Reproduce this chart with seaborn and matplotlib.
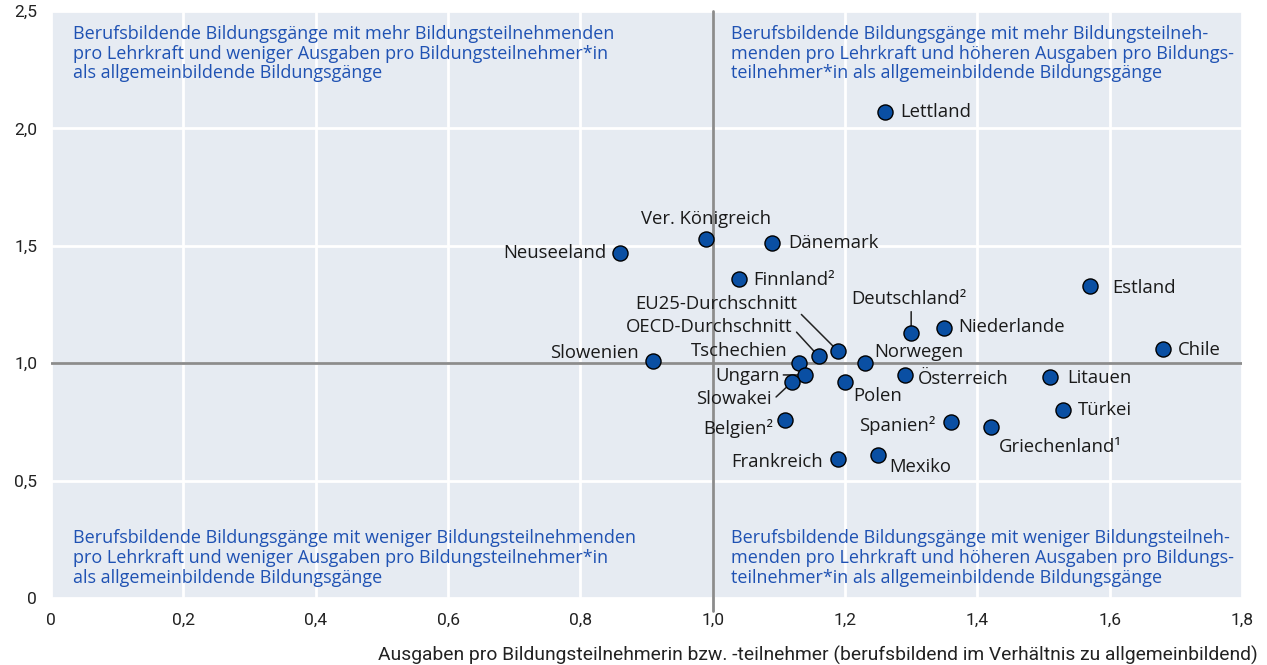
import matplotlib
matplotlib.use("Agg")
import matplotlib.pyplot as plt
from matplotlib import font_manager
from matplotlib.ticker import FuncFormatter
import seaborn as sns
import pandas as pd

# --- data -----------------------------------------------------------------
laender = [
    "Lettland", "Ver. Königreich", "Neuseeland", "Dänemark", "Finnland²",
    "Estland", "Chile", "Niederlande", "Deutschland²", "EU25-Durchschnitt",
    "OECD-Durchschnitt", "Tschechien", "Norwegen", "Slowenien", "Ungarn",
    "Slowakei", "Polen", "Österreich", "Litauen", "Türkei", "Spanien²",
    "Griechenland¹", "Belgien²", "Frankreich", "Mexiko",
]
ausgaben_verhaeltnis = [
    1.26, 0.99, 0.86, 1.09, 1.04,
    1.57, 1.68, 1.35, 1.30, 1.19,
    1.16, 1.13, 1.23, 0.91, 1.14,
    1.12, 1.20, 1.29, 1.51, 1.53, 1.36,
    1.42, 1.11, 1.19, 1.25,
]
teilnehmer_pro_lehrkraft = [
    2.07, 1.53, 1.47, 1.51, 1.36,
    1.33, 1.06, 1.15, 1.13, 1.05,
    1.03, 1.00, 1.00, 1.01, 0.95,
    0.92, 0.92, 0.95, 0.94, 0.80, 0.75,
    0.73, 0.76, 0.59, 0.61,
]
x_ticks = [0, 0.2, 0.4, 0.6, 0.8, 1.0, 1.2, 1.4, 1.6, 1.8]
y_ticks = [0, 0.5, 1.0, 1.5, 2.0, 2.5]

quadranten = {
    "ol": "Berufsbildende Bildungsgänge mit mehr Bildungsteilnehmenden\n"
          "pro Lehrkraft und weniger Ausgaben pro Bildungsteilnehmer*in\n"
          "als allgemeinbildende Bildungsgänge",
    "or": "Berufsbildende Bildungsgänge mit mehr Bildungsteilneh-\n"
          "menden pro Lehrkraft und höheren Ausgaben pro Bildungs-\n"
          "teilnehmer*in als allgemeinbildende Bildungsgänge",
    "ul": "Berufsbildende Bildungsgänge mit weniger Bildungsteilnehmenden\n"
          "pro Lehrkraft und weniger Ausgaben pro Bildungsteilnehmer*in\n"
          "als allgemeinbildende Bildungsgänge",
    "ur": "Berufsbildende Bildungsgänge mit weniger Bildungsteilneh-\n"
          "menden pro Lehrkraft und höheren Ausgaben pro Bildungs-\n"
          "teilnehmer*in als allgemeinbildende Bildungsgänge",
}
x_titel = ("Ausgaben pro Bildungsteilnehmerin bzw. -teilnehmer "
           "(berufsbildend im Verhältnis zu allgemeinbildend)")

# --- label layout (pixel offsets from the marker, horizontal alignment) ---
label_pos = {
    "Lettland": (16, 0, "left"),
    "Ver. Königreich": (0, 20, "center"),
    "Neuseeland": (-14, 0, "right"),
    "Dänemark": (16, 0, "left"),
    "Finnland²": (14, -1, "left"),
    "Estland": (22, -2, "left"),
    "Chile": (15, -1, "left"),
    "Niederlande": (14, 1, "left"),
    "Deutschland²": (-2, 34, "center"),
    "EU25-Durchschnitt": (-41, 47, "right"),
    "OECD-Durchschnitt": (-26, 29, "right"),
    "Tschechien": (-11, 12, "right"),
    "Norwegen": (9, 11, "left"),
    "Slowenien": (-14, 8, "right"),
    "Ungarn": (-25, -1, "right"),
    "Slowakei": (-21, -17, "right"),
    "Polen": (8, -14, "left"),
    "Österreich": (13, -4, "left"),
    "Litauen": (17, -1, "left"),
    "Türkei": (15, 0, "left"),
    "Spanien²": (-15, -4, "right"),
    "Griechenland¹": (8, -20, "left"),
    "Belgien²": (-12, -9, "right"),
    "Frankreich": (-15, -3, "right"),
    "Mexiko": (11, -12, "left"),
}
# leader lines: start point in pixels relative to the marker
leader_start = {
    "Deutschland²": (0, 21),
    "EU25-Durchschnitt": (-37, 37),
    "OECD-Durchschnitt": (-22, 24),
    "Ungarn": (-22, 0),
    "Slowakei": (-16, -15),
}

# --- style ----------------------------------------------------------------
BG = "#e6ebf2"
DOT = "#0a4fa3"
BLUE = "#1f52b3"
REF = "#8c8c8c"

sns.set_theme(style="white")
installed = {f.name for f in font_manager.fontManager.ttflist}
text_font = "Open Sans" if "Open Sans" in installed else "DejaVu Sans"
tick_font = "Roboto" if "Roboto" in installed else "DejaVu Sans"
plt.rcParams["font.family"] = [text_font, "DejaVu Sans"]

df = pd.DataFrame({
    "land": laender,
    "ausgaben": ausgaben_verhaeltnis,
    "teilnehmer": teilnehmer_pro_lehrkraft,
})

fig = plt.figure(figsize=(12.67, 6.65), dpi=100)
ax = fig.add_axes([51 / 1267, 1 - 598 / 665, (1242 - 51) / 1267, (598 - 11) / 665])
ax.set_facecolor(BG)

ax.set_xlim(0, 1.8)
ax.set_ylim(0, 2.5)
ax.set_xticks(x_ticks)
ax.set_yticks(y_ticks)


def komma(v, _pos):
    if abs(v) < 1e-9:
        return "0"
    return f"{v:.1f}".replace(".", ",")


ax.xaxis.set_major_formatter(FuncFormatter(komma))
ax.yaxis.set_major_formatter(FuncFormatter(komma))
ax.grid(True, color="white", linewidth=2)
ax.set_axisbelow(True)
for s in ax.spines.values():
    s.set_visible(False)
ax.tick_params(length=0, labelsize=12.5, colors="#222222")
ax.tick_params(axis="x", pad=11)
ax.tick_params(axis="y", pad=10)
for lbl in ax.get_xticklabels() + ax.get_yticklabels():
    lbl.set_fontfamily(tick_font)

# reference lines at parity
ax.axhline(1.0, color=REF, linewidth=2, zorder=1.5)
ax.axvline(1.0, ymin=-0.022, ymax=1, color=REF, linewidth=2, zorder=1.5,
           clip_on=False)

# leader lines (under the markers)
for name, (sx, sy) in leader_start.items():
    row = df[df["land"] == name].iloc[0]
    ax.annotate("", xy=(row["ausgaben"], row["teilnehmer"]),
                xytext=(sx, sy), textcoords="offset pixels",
                arrowprops=dict(arrowstyle="-", color="#222222", lw=1.1,
                                shrinkA=0, shrinkB=0),
                zorder=2)

sns.scatterplot(data=df, x="ausgaben", y="teilnehmer", ax=ax, s=118,
                color=DOT, edgecolor="black", linewidth=1, zorder=3,
                legend=False)

for _, row in df.iterrows():
    dx, dy, ha = label_pos[row["land"]]
    ax.annotate(row["land"], xy=(row["ausgaben"], row["teilnehmer"]),
                xytext=(dx, dy), textcoords="offset pixels",
                ha=ha, va="center", fontsize=13.3, color="#1a1a1a", zorder=4)

# quadrant descriptions
q_kw = dict(color=BLUE, fontsize=13, va="top", ha="left", linespacing=1.12,
            zorder=4)
ax.text(0.033, 2.440, quadranten["ol"], **q_kw)
ax.text(1.028, 2.440, quadranten["or"], **q_kw)
ax.text(0.033, 0.292, quadranten["ul"], **q_kw)
ax.text(1.028, 0.292, quadranten["ur"], **q_kw)

ax.set_xlabel("")
ax.set_ylabel("")
fig.text(1258 / 1267, 1 - 655 / 665, x_titel, ha="right", va="center",
         fontsize=13.9, color="#222222", fontfamily=tick_font)

fig.savefig("out.png", dpi=100, facecolor="white")
